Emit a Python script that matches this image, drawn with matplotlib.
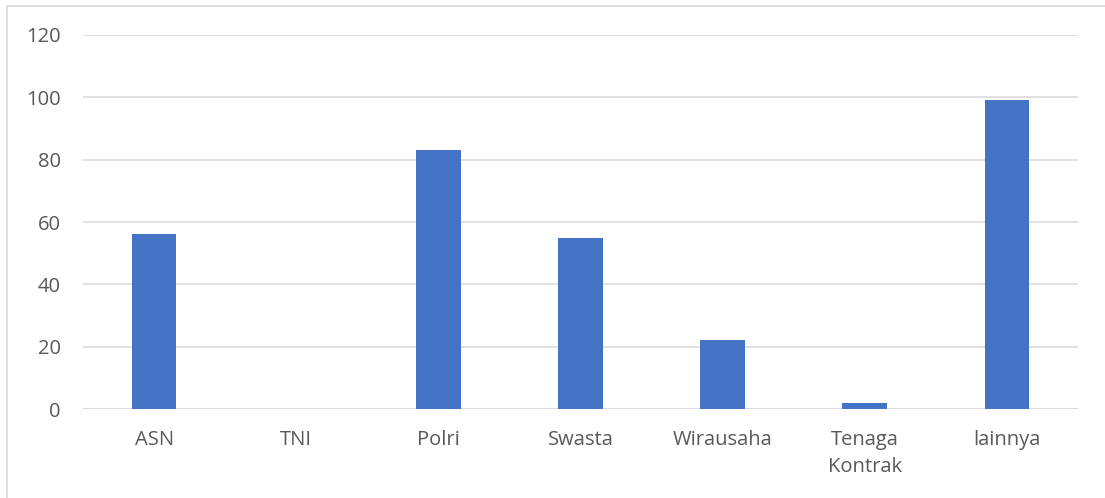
import matplotlib
matplotlib.use("Agg")
import numpy as np
from matplotlib import pyplot as plt
from matplotlib.lines import Line2D

# data
categories = ["ASN", "TNI", "Polri", "Swasta", "Wirausaha", "Tenaga\nKontrak", "lainnya"]
values = [56, 0, 83, 55, 22, 2, 99]
yticks = [0, 20, 40, 60, 80, 100, 120]

plt.rcParams['font.family'] = ['Open Sans', 'DejaVu Sans']

fig = plt.figure(figsize=(11.05, 4.98), dpi=100)
ax = fig.add_axes([83 / 1105, 1 - 409 / 498, (1078 - 83) / 1105, (409 - 35) / 498])

x = np.arange(len(categories))
ax.bar(x, values, width=0.315, color="#4472C4", zorder=3)

ax.set_xlim(-0.5, len(categories) - 0.5)
ax.set_ylim(0, 120)
ax.set_yticks(yticks)
ax.set_xticks(x)
ax.set_xticklabels(categories, linespacing=1.45)
ax.yaxis.grid(True, color="#d9d9d9", linewidth=1.1, zorder=0)
ax.tick_params(axis="both", length=0, labelsize=14.5, labelcolor="#595959")
ax.tick_params(axis="x", pad=15)
ax.tick_params(axis="y", pad=16)
for s in ax.spines.values():
    s.set_visible(False)
ax.axhline(0, color="#d9d9d9", linewidth=1.1, zorder=2)

# chart area border (left and top edges visible in the reference)
fig.add_artist(Line2D([7 / 1105, 7 / 1105], [0, 1 - 6 / 498], transform=fig.transFigure,
                      color="#d9d9d9", linewidth=1.2))
fig.add_artist(Line2D([7 / 1105, 1], [1 - 6 / 498, 1 - 6 / 498], transform=fig.transFigure,
                      color="#d9d9d9", linewidth=1.2))

fig.savefig("out.png", dpi=100)
